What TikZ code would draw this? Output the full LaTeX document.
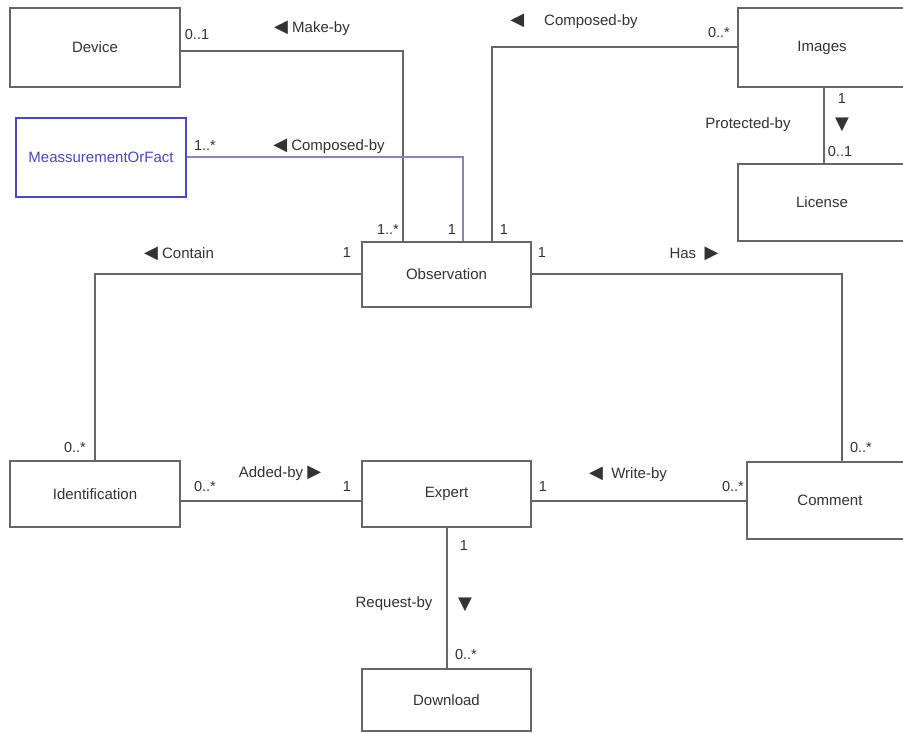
\documentclass[tikz,border=0pt]{standalone}
\usepackage{fontspec}
\setmainfont{Liberation Sans}
\newfontfamily\symfont{DejaVu Sans}
\usetikzlibrary{positioning, calc}
\definecolor{umlLine}{HTML}{666666}
\definecolor{umlText}{HTML}{333333}
\definecolor{mofBlue}{HTML}{4B48C4}
\definecolor{mofLine}{HTML}{8585C6}
\newcommand{\tril}{{\symfont\fontsize{18}{18}\selectfont\char"25C0}}
\newcommand{\trir}{{\symfont\fontsize{18}{18}\selectfont\char"25B6}}
\newcommand{\trid}{{\symfont\fontsize{18}{18}\selectfont\char"25BC}}
\tikzset{
  classbox/.style={rectangle, draw=umlLine, line width=2pt, fill=white,
    text=umlText, font=\fontsize{15}{18}\selectfont, inner sep=0pt},
  assoc/.style={draw=umlLine, line width=2pt},
  mult/.style={text=umlText, font=\fontsize{14.5}{17}\selectfont, inner sep=1pt},
  rolelbl/.style={text=umlText, font=\fontsize{15}{18}\selectfont, inner sep=1pt}
}

\begin{document}
\begin{tikzpicture}[x=1pt, y=-1pt]
    \clip (0,0) rectangle (903,733);
    \fill[white] (0,0) rectangle (903,733);
    % classes
    \node[classbox, minimum width=170pt, minimum height=79pt] (device) at (95,47.5) {Device};
    \node[classbox, draw=mofBlue, text=mofBlue, minimum width=170pt, minimum height=79pt]
      (mof) at (101,157.5) {MeassurementOrFact};
    \node[classbox, minimum width=169pt, minimum height=65pt] (obs) at (446.5,274.5) {Observation};
    \node[classbox, minimum width=168pt, minimum height=79pt] (images) at (822,47.5) {Images};
    \node[classbox, minimum width=168pt, minimum height=77pt] (license) at (822,202.5) {License};
    \node[classbox, minimum width=170pt, minimum height=66pt] (ident) at (95,494) {Identification};
    \node[classbox, minimum width=169pt, minimum height=66pt] (expert) at (446.5,494) {Expert};
    \node[classbox, minimum width=166pt, minimum height=77pt] (comment) at (830,500.5) {Comment};
    \node[classbox, minimum width=169pt, minimum height=62pt] (download) at (446.5,700) {Download};

    % associations
    \draw[assoc] ([yshift=-3.5pt]device.east) -| ([xshift=-43.5pt]obs.north);
    \draw[assoc, draw=mofLine] (mof.east) -| ([xshift=16.5pt]obs.north);
    \draw[assoc] (images.west) -| ([xshift=45.5pt]obs.north);
    \draw[assoc] ([xshift=2pt]images.south) -- ([xshift=2pt]license.north);
    \draw[assoc] ([yshift=1pt]obs.west) -| (ident.north);
    \draw[assoc] ([yshift=1pt]obs.east) -| ([xshift=12pt]comment.north);
    \draw[assoc] ([yshift=-7pt]ident.east) -- ([yshift=-7pt]expert.west);
    \draw[assoc] ([yshift=-7pt]expert.east) -- ([yshift=-7pt]expert.east -| comment.west);
    \draw[assoc] (expert.south) -- (download.north);

    % role names
    \node[rolelbl] (lmake) at (312,28) {\tril\ Make-by};
    \node[rolelbl] (lmof) at (329,146) {\tril\ Composed-by};
    \node[rolelbl] (limg) at (574,21) {\tril\hspace{20pt}Composed-by};
    \node[rolelbl] (lprot) at (748,125) {Protected-by};
    \node[rolelbl] (tprot) at (842,125) {\trid};
    \node[rolelbl] (lcont) at (179,254) {\tril\ Contain};
    \node[rolelbl] (lhas) at (694,254) {Has\ \ \trir};
    \node[rolelbl] (ladd) at (280,473) {Added-by \trir};
    \node[rolelbl] (lwrite) at (628,474) {\tril\ \ Write-by};
    \node[rolelbl] (lreq) at (394,604) {Request-by};
    \node[rolelbl] (treq) at (465,605) {\trid};

    % multiplicities
    \node[mult] (mdev) at (197,35) {0..1};
    \node[mult] (mmof) at (205,146) {1..*};
    \node[mult] (mobsa) at (388,230) {1..*};
    \node[mult] (mobsb) at (452,230) {1};
    \node[mult] (mobsc) at (504,230) {1};
    \node[mult] (mimg) at (719,33) {0..*};
    \node[mult] (mimgb) at (842,99) {1};
    \node[mult] (mlic) at (840,152) {0..1};
    \node[mult] (mobsl) at (347,253) {1};
    \node[mult] (mobsr) at (542,253) {1};
    \node[mult] (midt) at (75,448) {0..*};
    \node[mult] (mcomt) at (861,448) {0..*};
    \node[mult] (midr) at (205,487) {0..*};
    \node[mult] (mexl) at (347,487) {1};
    \node[mult] (mexr) at (543,487) {1};
    \node[mult] (mcoml) at (733,487) {0..*};
    \node[mult] (mexb) at (464,546) {1};
    \node[mult] (mdl) at (466,655) {0..*};
  \end{tikzpicture}
\end{document}
